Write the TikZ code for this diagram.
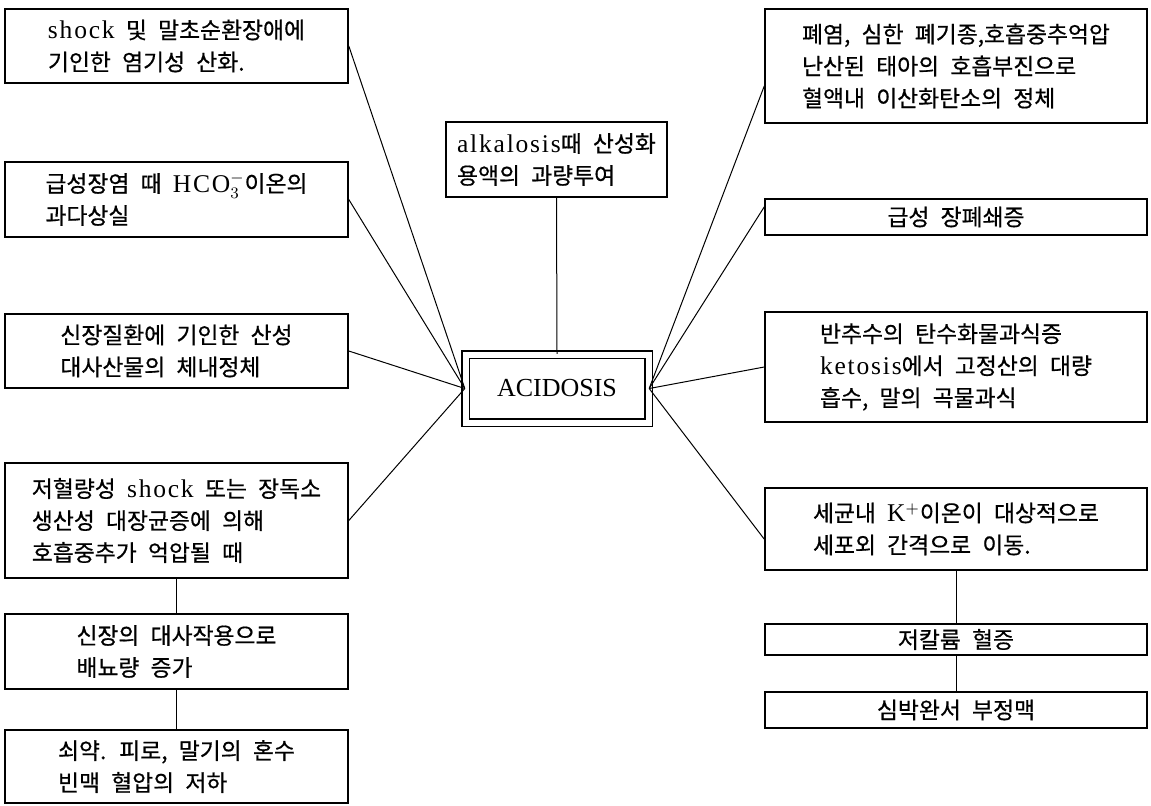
\documentclass[tikz,border=0pt]{standalone}
\usepackage{fontspec}
\setmainfont{Noto Sans CJK KR}[WordSpace=2.2,FakeBold=0.6]
\newfontfamily\lat[LetterSpace=7,Scale=1.12]{Liberation Serif}
\newfontfamily\serif{Liberation Serif}
\usepackage{tikz}
\usetikzlibrary{positioning}

\begin{document}
\begin{tikzpicture}[x=0.5pt,y=-0.5pt,line width=0.5pt]
\tikzstyle{bx}=[draw,line width=0.8pt,inner sep=0pt,align=left,font=\fontsize{11.4pt}{16pt}\selectfont]
\tikzstyle{lb}=[bx,minimum width=171.5pt]
\tikzstyle{rb}=[bx,minimum width=191pt]
\useasboundingbox (0,0) rectangle (1151,805);
\node[lb,minimum height=37pt] (l1) at (176.5,46) {{\lat shock} 및 말초순환장애에\\기인한 염기성 산화.};
\node[lb,minimum height=37.5pt] (l2) at (176.5,199.5) {급성장염 때 {\lat HCO}$_{3}^{-}$이온의\\과다상실};
\node[lb,minimum height=37pt] (l3) at (176.5,351) {신장질환에 기인한 산성\\대사산물의 체내정체};
\node[lb,minimum height=57.5pt] (l4) at (176.5,520.5) {저혈량성 {\lat shock} 또는 장독소\\생산성 대장균증에 의해\\호흡중추가 억압될 때};
\node[lb,minimum height=37.5pt] (l5) at (176.5,651.5) {신장의 대사작용으로\\배뇨량 증가};
\node[lb,minimum height=36.5pt] (l6) at (176.5,766.5) {쇠약. 피로, 말기의 혼수\\빈맥 혈압의 저하};
\node[bx,minimum width=110.5pt,minimum height=37.5pt] (top) at (556.5,159.5) {{\lat alkalosis}때 산성화\\용액의 과량투여};
\node[draw,line width=0.7pt,double,double distance=3pt,inner sep=0pt,minimum width=91.5pt,minimum height=34pt,font=\serif\fontsize{13pt}{16pt}\selectfont] (acid) at (557,388.5) {ACIDOSIS};
\node[rb,minimum height=57pt] (r1) at (956,66) {폐염, 심한 폐기종,호흡중추억압\\난산된 태아의 호흡부진으로\\혈액내 이산화탄소의 정체};
\node[rb,minimum height=18pt] (r2) at (956,217) {급성 장폐쇄증};
\node[rb,minimum height=55pt] (r3) at (956,367) {반추수의 탄수화물과식증\\{\lat ketosis}에서 고정산의 대량\\흡수, 말의 곡물과식};
\node[rb,minimum height=41pt] (r4) at (956,529) {세균내 {\lat K}$^{+}$이온이 대상적으로\\세포외 간격으로 이동.};
\node[rb,minimum height=15.5pt] (r5) at (956,639.5) {저칼륨 혈증};
\node[rb,minimum height=18pt] (r6) at (956,710) {심박완서 부정맥};
\draw (l1.east) -- (acid.west);
\draw (l2.east) -- (acid.west);
\draw (l3.east) -- (acid.west);
\draw (l4.east) -- (acid.west);
\draw (top.south) -- (acid.north);
\draw (r1.186) -- (acid.east);
\draw (r2.177) -- (acid.east);
\draw (r3.west) -- (acid.east);
\draw (r4.183) -- (acid.east);
\draw (l4) -- (l5);
\draw (l5) -- (l6);
\draw (r4) -- (r5);
\draw (r5) -- (r6);
\end{tikzpicture}
\end{document}
